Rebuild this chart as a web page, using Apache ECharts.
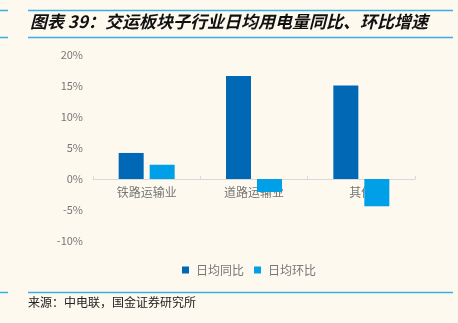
<!DOCTYPE html>
<html>
<head>
<meta charset="utf-8">
<script src="https://cdn.jsdelivr.net/npm/echarts@6/dist/echarts.min.js"></script>
<style>
  html, body { margin: 0; padding: 0; background: #FDF9EF; }
  #chart { width: 458px; height: 323px; }
</style>
</head>
<body>
<div id="chart"></div>
<script>
// Sub-sector categories and daily-average power consumption growth (%)
const categories = ['铁路运输业', '道路运输业', '其他'];
const yoyValues = [4.2, 16.6, 15.1];   // 日均同比
const momValues = [2.3, -2.1, -4.4];   // 日均环比
const yTicks = [-10, -5, 0, 5, 10, 15, 20];

const titleText = '图表 39：交运板块子行业日均用电量同比、环比增速';
const sourceText = '来源：中电联，国金证券研究所';

const ruleColor = '#3AAEE8';
const cjk = '"Noto Sans CJK SC", "Noto Sans", sans-serif';

// plot area
const gridTop = 55, gridBottomPx = 241, gridH = gridBottomPx - gridTop;
const yMin = yTicks[0], yMax = yTicks[yTicks.length - 1];
// distance from the plot bottom up to the zero line, so the category axis sits on y = 0
const zeroOffset = -gridH * (0 - yMin) / (yMax - yMin);

function hRule(y, x1, x2) {
  return { type: 'line', shape: { x1: x1, y1: y, x2: x2, y2: y },
           style: { stroke: ruleColor, lineWidth: 1.5 }, silent: true };
}

const chart = echarts.init(document.getElementById('chart'), null, { renderer: 'canvas' });
chart.setOption({
  backgroundColor: '#FDF9EF',
  animation: false,
  graphic: [
    hRule(10.5, 0, 8), hRule(10.5, 28, 453),
    hRule(37.5, 0, 8), hRule(37.5, 28, 453),
    hRule(292.5, 0, 8), hRule(292.5, 28, 453),
    { type: 'text', left: 30, top: 13,
      style: { text: titleText, fill: '#111', font: 'italic bold 17px ' + cjk } },
    { type: 'text', left: 28, top: 296,
      style: { text: sourceText, fill: '#222', font: '12px ' + cjk } }
  ],
  grid: { left: 93, right: 43, top: gridTop, height: gridH, containLabel: false },
  legend: {
    data: ['日均同比', '日均环比'],
    top: 259, left: 177,
    itemWidth: 7, itemHeight: 7, itemGap: 10,
    icon: 'rect',
    textStyle: { color: '#777', fontSize: 12, fontFamily: cjk, padding: [0, 0, 0, 2] }
  },
  xAxis: {
    type: 'category',
    data: categories,
    position: 'bottom',
    offset: zeroOffset,
    axisLine: { onZero: false, lineStyle: { color: '#d9d9d9', width: 1 } },
    axisTick: { show: true, inside: true, length: 3, lineStyle: { color: '#d9d9d9' } },
    axisLabel: { color: '#777', fontSize: 12, fontFamily: cjk, margin: 7 },
    z: 1
  },
  yAxis: {
    type: 'value',
    min: yMin, max: yMax, interval: 5,
    axisLine: { show: false },
    axisTick: { show: false },
    splitLine: { show: false },
    axisLabel: { color: '#777', fontSize: 11, fontFamily: cjk, margin: 10,
                 formatter: v => v + '%' }
  },
  series: [
    { name: '日均同比', type: 'bar', data: yoyValues, barWidth: 25, barGap: '24%',
      itemStyle: { color: '#0068B4' }, z: 3 },
    { name: '日均环比', type: 'bar', data: momValues, barWidth: 25,
      itemStyle: { color: '#00A0E8' }, z: 3 }
  ]
});
</script>
</body>
</html>
